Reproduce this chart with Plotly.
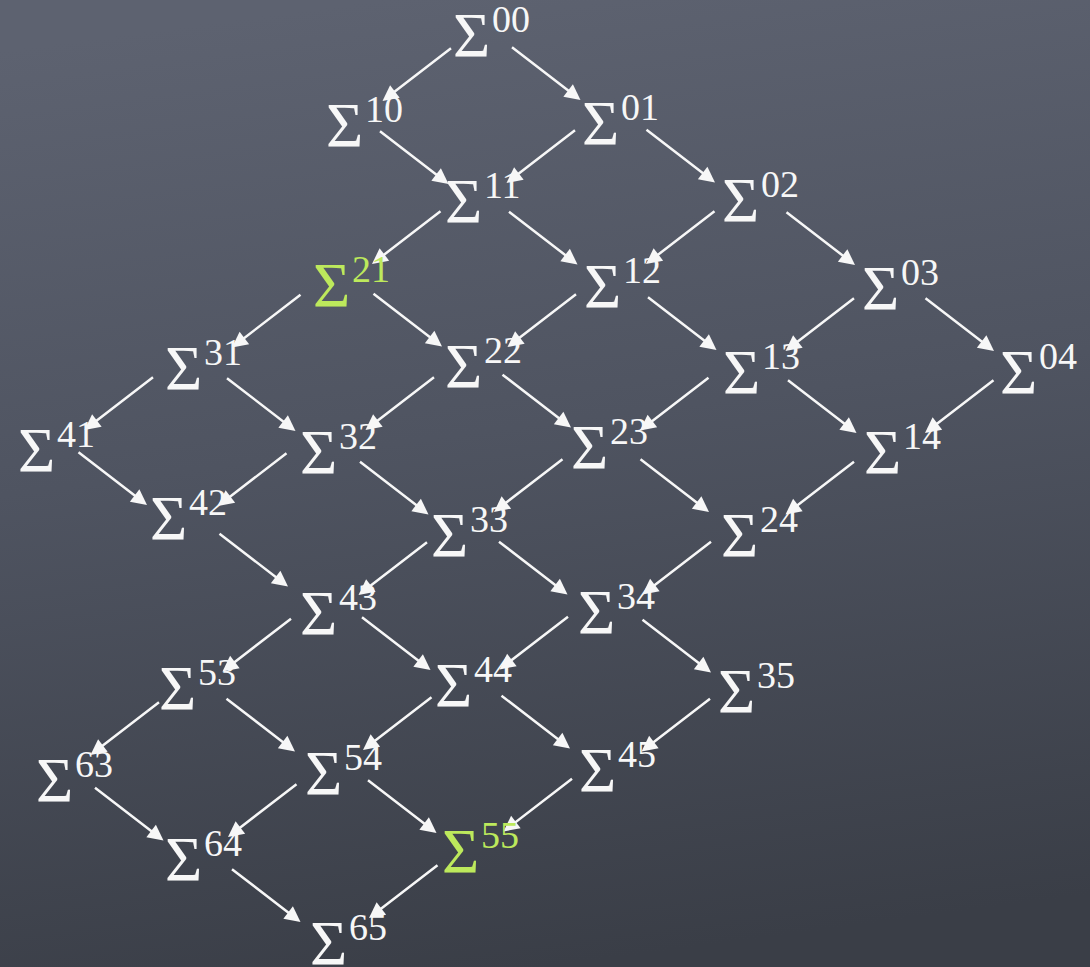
import base64
import plotly.graph_objects as go

# Nodes of the lattice: superscript label and where the Sigma sits on the slide
node_labels = ["00", "10", "01", "11", "02", "21", "12", "03", "31", "22",
               "13", "04", "41", "32", "23", "14", "42", "33", "24", "43",
               "34", "53", "44", "35", "63", "54", "45", "64", "55", "65"]
node_x = [471, 344, 600, 463, 740, 331, 602, 880, 183, 463,
          741, 1018, 36, 318, 589, 882, 168, 449, 739, 318,
          596, 177, 453, 736, 54, 323, 597, 183, 460, 328]
node_y = [35, 125, 123, 201, 200, 285, 286, 288, 368, 366,
          372, 372, 450, 452, 447, 452, 518, 535, 535, 613,
          612, 688, 685, 691, 780, 773, 770, 859, 851, 943]
highlighted = ["21", "55"]

# Arrows between nodes (source -> target)
edge_from = ["00", "00", "10", "01", "01", "11", "11", "02", "02", "21",
             "21", "12", "12", "03", "03", "31", "31", "22", "22", "13",
             "13", "04", "41", "32", "32", "23", "23", "14", "42", "33",
             "33", "24", "43", "43", "34", "34", "53", "53", "44", "44",
             "35", "63", "54", "54", "45", "64", "55"]
edge_to = ["10", "01", "11", "11", "02", "21", "12", "12", "03", "31",
           "22", "22", "13", "13", "04", "41", "32", "32", "23", "23",
           "14", "14", "42", "42", "33", "33", "24", "24", "43", "43",
           "34", "34", "53", "44", "44", "35", "63", "54", "54", "45",
           "45", "64", "64", "55", "55", "65", "65"]

WHITE = "#f7f7f7"
GREEN = "#bde95c"
FONT = "Liberation Serif"

pos = {lab: (x, y) for lab, x, y in zip(node_labels, node_x, node_y)}

fig = go.Figure()
annotations = []

# arrows: same length everywhere, centred between the two nodes
half_dx, half_dy = 35, 27
shift_x, shift_y = 10, -6
for src, dst in zip(edge_from, edge_to):
    x0, y0 = pos[src]
    x1, y1 = pos[dst]
    mx = (x0 + x1) / 2 + shift_x
    my = (y0 + y1) / 2 + shift_y
    sx = 1 if x1 > x0 else -1
    annotations.append(dict(
        x=mx + sx * half_dx, y=my + half_dy,
        ax=mx - sx * half_dx, ay=my - half_dy,
        xref="x", yref="y", axref="x", ayref="y",
        text="", showarrow=True, arrowhead=2, arrowsize=1.25,
        arrowwidth=2.5, arrowcolor=WHITE, standoff=0, startstandoff=0,
    ))

# sigma glyphs with their superscripts
for lab, x, y in zip(node_labels, node_x, node_y):
    col = GREEN if lab in highlighted else WHITE
    annotations.append(dict(
        x=x, y=y, xref="x", yref="y", text="Σ", showarrow=False,
        xanchor="center", yanchor="middle", yshift=0,
        font=dict(family=FONT, size=64, color=col),
    ))
    annotations.append(dict(
        x=x, y=y, xref="x", yref="y", text=lab, showarrow=False,
        xanchor="left", yanchor="middle", xshift=19, yshift=16,
        font=dict(family=FONT, size=38, color=col),
    ))

# chalkboard-like background as an svg gradient
bg_svg = """<svg xmlns='http://www.w3.org/2000/svg' width='1090' height='967'>
<defs><linearGradient id='g' x1='0.35' y1='0' x2='0.5' y2='1'>
<stop offset='0' stop-color='#5d6270'/>
<stop offset='0.45' stop-color='#4f5461'/>
<stop offset='1' stop-color='#3a3e47'/>
</linearGradient></defs>
<rect width='1090' height='967' fill='url(#g)'/></svg>"""
bg_src = "data:image/svg+xml;base64," + base64.b64encode(bg_svg.encode()).decode()

fig.update_layout(
    width=1090, height=967,
    margin=dict(l=0, r=0, t=0, b=0),
    paper_bgcolor="#4b505c",
    plot_bgcolor="rgba(0,0,0,0)",
    showlegend=False,
    annotations=annotations,
    images=[dict(source=bg_src, xref="paper", yref="paper", x=0, y=1,
                 sizex=1, sizey=1, sizing="stretch", layer="below")],
    xaxis=dict(range=[0, 1090], visible=False, fixedrange=True),
    yaxis=dict(range=[967, 0], visible=False, fixedrange=True),
)

# drop the page's default body margin so the slide fills the window
fig.write_html("out.html", config={"displayModeBar": False},
               post_script="document.body.style.margin='0';"
                           "document.body.style.overflow='hidden';")
